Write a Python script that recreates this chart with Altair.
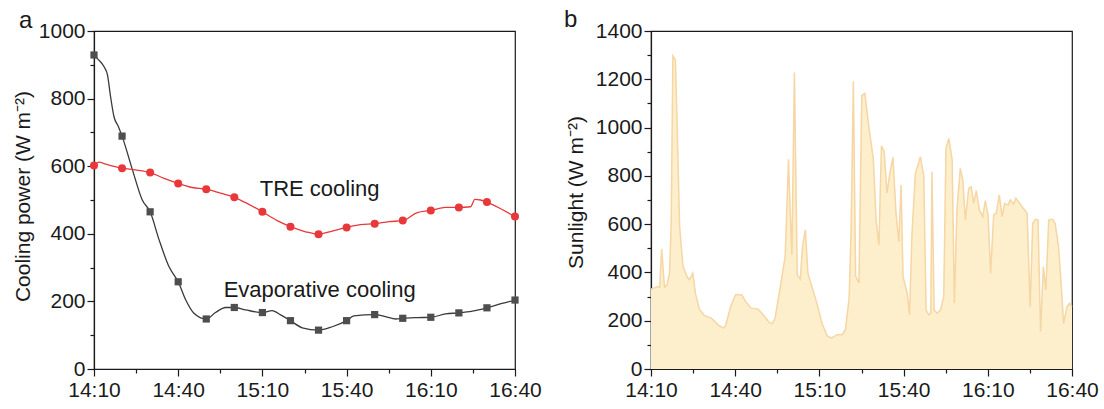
import altair as alt
import pandas as pd

FONT = "Liberation Sans"

# ---------------- data ----------------
# Panel a: markers every 10 minutes
marker_times = ["14:10", "14:20", "14:30", "14:40", "14:50", "15:00", "15:10", "15:20",
                "15:30", "15:40", "15:50", "16:00", "16:10", "16:20", "16:30", "16:40"]
tre_markers = [602, 594, 581, 549, 532, 508, 465, 421, 399, 419, 430, 439, 469, 478, 494, 451]
evap_markers = [929, 689, 465, 258, 148, 182, 167, 143, 115, 143, 161, 150, 153, 166, 181, 204]

# Panel a: dense traces (minutes after 14:10)
evap_line_t = [0, 1.5, 3.6, 4.8, 5.9, 7.1, 8.7, 10, 13.7, 17.2, 20, 23.2, 26.7, 30, 32.7, 35.6,
               40, 43.3, 46.9, 50, 54, 60, 63.5, 66.5, 70, 74.2, 80, 84.9, 90, 92.6, 100, 103.9,
               107.5, 110, 115.2, 120, 125.3, 130, 134.8, 140, 145.4, 150]
evap_line_v = [929, 916, 894, 870, 806, 747, 717, 689, 589, 500, 465, 382, 303, 258, 204, 165,
               148, 167, 182, 182, 175, 167, 173, 160, 143, 122, 115, 125, 143, 157, 161, 155,
               148, 150, 152, 153, 163, 166, 171, 181, 194, 204]
tre_line_t = [0, 1.8, 4.2, 10, 14.8, 20, 25, 30, 35, 40, 45.1, 50, 55.2, 60, 65.3, 70, 75.4, 80,
              84.9, 90, 94.9, 100, 105.1, 110, 115.2, 120, 125.3, 130, 134.2, 135.7, 137.7, 140,
              145.4, 150]
tre_line_v = [602, 612, 606, 594, 589, 581, 564, 549, 537, 532, 520, 508, 487, 465, 439, 421, 406,
              399, 408, 419, 427, 430, 436, 439, 463, 469, 478, 478, 480, 502, 500, 494, 472, 451]

# Panel b: sunlight trace (minutes after 14:10)
sun_t = [0, 2.4, 3.1, 3.8, 4.8, 5.7, 6.6, 7.2, 7.8, 8.7, 9.3, 10.2, 11.4, 12.9, 13.7, 14.9, 15.8,
         17.3, 19.1, 21.5, 23.9, 25.7, 26.5, 28.4, 30.1, 32.3, 33.7, 35.6, 38.2, 40.0, 42.1, 43.3,
         44.2, 46.0, 47.8, 49.0, 49.6, 50.2, 51.1, 52.1, 53.2, 54.0, 55.0, 55.9, 57.3, 59.1, 60.9,
         62.7, 64.3, 66.3, 68.1, 69.3, 70.6, 71.3, 72.1, 72.9, 74.1, 75.1, 76.2, 77.6, 79.2, 80.2,
         81.2, 82.1, 83.1, 84.1, 85.0, 86.2, 87.3, 88.3, 89.1, 89.8, 91.3, 92.1, 93.0, 94.2, 96.0,
         97.2, 98.0, 99.0, 99.7, 100.1, 100.9, 101.9, 103.1, 104.3, 105.1, 106.1, 107.3, 108.1,
         109.0, 110.2, 111.1, 112.0, 113.2, 114.1, 115.0, 115.9, 117.0, 118.2, 119.1, 120.1, 121.0,
         122.1, 123.0, 124.1, 125.1, 126.0, 127.2, 128.0, 129.2, 130.0, 131.2, 132.2, 134.0, 135.1,
         136.0, 136.9, 137.9, 138.8, 139.8, 140.7, 141.7, 143.1, 144.0, 145.2, 146.2, 147.0, 148.2,
         149.1, 150]
sun_v = [331, 342, 339, 497, 339, 349, 397, 604, 1297, 1280, 1018, 590, 425, 381, 370, 397, 314,
         246, 221, 211, 183, 170, 177, 259, 308, 308, 280, 252, 248, 225, 193, 188,
         211, 335, 466, 869, 646, 473, 1228, 390, 372, 508, 577, 397, 342, 273, 190,
         138, 128, 142, 142, 165, 295, 580, 1192, 385, 357, 1133, 1142, 1004, 873, 617,
         514, 924, 900, 728, 804, 877, 645, 527, 762, 382, 313, 224, 562, 810, 879,
         797, 244, 224, 231, 817, 244, 231, 244, 300, 914, 955, 866, 272,
         659, 831, 783, 617, 748, 755, 686, 739, 659, 631, 697, 638, 396,
         638, 645, 721, 631, 686, 679, 700, 683, 707, 689, 672, 645, 258,
         603, 620, 617, 155, 424, 327, 617, 620, 603, 507, 341, 189, 258,
         272, 258]

x_tick_labels = ["14:10", "14:40", "15:10", "15:40", "16:10", "16:40"]
x_minor_labels = ["14:25", "14:55", "15:25", "15:55", "16:25"]
y_ticks_a = [0, 200, 400, 600, 800, 1000]
y_minor_a = [100, 300, 500, 700, 900]
y_ticks_b = [0, 200, 400, 600, 800, 1000, 1200, 1400]
y_minor_b = [100, 300, 500, 700, 900, 1100, 1300]

annot_text = ["TRE cooling", "Evaporative cooling"]
annot_time = ["15:30", "15:30"]
annot_value = [512, 214]


def to_min(s):
    h, m = s.split(":")
    return int(h) * 60 + int(m)


T0 = to_min("14:10")
T1 = to_min("16:40")

df_tre_m = pd.DataFrame({"t": [to_min(s) for s in marker_times], "v": tre_markers})
df_evap_m = pd.DataFrame({"t": [to_min(s) for s in marker_times], "v": evap_markers})
df_tre_l = pd.DataFrame({"t": [T0 + d for d in tre_line_t], "v": tre_line_v})
df_evap_l = pd.DataFrame({"t": [T0 + d for d in evap_line_t], "v": evap_line_v})
df_sun = pd.DataFrame({"t": [T0 + d for d in sun_t], "v": sun_v})
df_annot = pd.DataFrame({"t": [to_min(s) + 0.4 for s in annot_time], "v": annot_value,
                         "label": annot_text})

label_expr = ("floor(datum.value/60) + ':' + (datum.value % 60 < 10 ? '0' : '') + "
              "(datum.value % 60)")

RED = "#e8383b"
GREY_LINE = "#3a3a3a"
GREY_MARK = "#4e4e4e"
BLACK = "#1a1a1a"

xscale = alt.Scale(domain=[T0, T1], nice=False, zero=False)


def x_major():
    return alt.Axis(values=[to_min(s) for s in x_tick_labels], labelExpr=label_expr, title=None,
                    tickSize=7, labelPadding=3, grid=False, orient="bottom",
                    labelFlush=False, labelOverlap=False)


def x_minor():
    return alt.Axis(values=[to_min(s) for s in x_minor_labels], labels=False, domain=False,
                    tickSize=4, title=None, grid=False, orient="bottom")


def y_major(vals, title, tx, ty):
    return alt.Axis(values=vals, format="d", title=title, tickSize=7, labelPadding=2,
                    grid=False, orient="left", titleX=tx, titleY=ty, titleAngle=270,
                    titleBaseline="bottom", titleAlign="center",
                    labelFlush=False, labelOverlap=False)


def y_minor(vals):
    return alt.Axis(values=vals, labels=False, domain=False, tickSize=4, title=None,
                    grid=False, orient="left")


W, H = 421, 338

# ---------------- panel a ----------------
yscale_a = alt.Scale(domain=[0, 1000], nice=False)

evap_line = alt.Chart(df_evap_l).mark_line(color=GREY_LINE, strokeWidth=1.3,
                                           interpolate="monotone").encode(
    x=alt.X("t:Q", scale=xscale, axis=x_major()),
    y=alt.Y("v:Q", scale=yscale_a, axis=y_major(y_ticks_a, "Cooling power (W m⁻²)", -60.5, 165)),
)
tre_line = alt.Chart(df_tre_l).mark_line(color=RED, strokeWidth=1.3,
                                         interpolate="monotone").encode(
    x=alt.X("t:Q", scale=xscale, axis=None),
    y=alt.Y("v:Q", scale=yscale_a, axis=None),
)
evap_pts = alt.Chart(df_evap_m).mark_square(color=GREY_MARK, size=52, opacity=1).encode(
    x=alt.X("t:Q", scale=xscale, axis=x_minor()),
    y=alt.Y("v:Q", scale=yscale_a, axis=y_minor(y_minor_a)),
)
tre_pts = alt.Chart(df_tre_m).mark_circle(color=RED, size=64, opacity=1).encode(
    x=alt.X("t:Q", scale=xscale, axis=None),
    y=alt.Y("v:Q", scale=yscale_a, axis=None),
)
annot = alt.Chart(df_annot).mark_text(font=FONT, fontSize=22, color=BLACK, align="center",
                                      baseline="alphabetic").encode(
    x=alt.X("t:Q", scale=xscale, axis=None),
    y=alt.Y("v:Q", scale=yscale_a, axis=None),
    text="label:N",
)
label_a = alt.Chart(pd.DataFrame({"p": ["a"]})).mark_text(
    font=FONT, fontSize=24, color=BLACK, align="left", baseline="alphabetic").encode(
    x=alt.value(-75), y=alt.value(-3), text="p:N")

left = alt.layer(evap_line, tre_line, evap_pts, tre_pts, annot, label_a).resolve_axis(
    x="independent", y="independent").properties(width=W, height=H)

# ---------------- panel b ----------------
yscale_b = alt.Scale(domain=[0, 1400], nice=False)

sun_area = alt.Chart(df_sun).mark_area(color="#fdefcb", opacity=1,
                                       line={"color": "#f5d6a4", "strokeWidth": 1.5}).encode(
    x=alt.X("t:Q", scale=xscale, axis=x_major()),
    y=alt.Y("v:Q", scale=yscale_b, axis=y_major(y_ticks_b, "Sunlight (W m⁻²)", -64.5, 161)),
)
sun_minor = alt.Chart(df_sun).mark_point(opacity=0, size=1).encode(
    x=alt.X("t:Q", scale=xscale, axis=x_minor()),
    y=alt.Y("v:Q", scale=yscale_b, axis=y_minor(y_minor_b)),
)
label_b = alt.Chart(pd.DataFrame({"p": ["b"]})).mark_text(
    font=FONT, fontSize=24, color=BLACK, align="left", baseline="alphabetic").encode(
    x=alt.value(-87), y=alt.value(-4), text="p:N")

right = alt.layer(sun_area, sun_minor, label_b).resolve_axis(
    x="independent", y="independent").properties(width=W, height=H)

chart = alt.hconcat(left, right, spacing=136, bounds="flush").properties(
    padding={"left": 11, "top": 7, "right": 5, "bottom": 5}
).configure_view(stroke=BLACK, strokeWidth=1.2).configure_axis(
    labelFont=FONT, labelFontSize=21, labelColor=BLACK, titleFont=FONT, titleFontSize=21,
    titleFontWeight="normal", titleColor=BLACK, tickColor=BLACK, domainColor=BLACK,
    tickWidth=1.2, domainWidth=1.2,
)

chart.save("out.html", embed_options={"renderer": "svg", "actions": False})
